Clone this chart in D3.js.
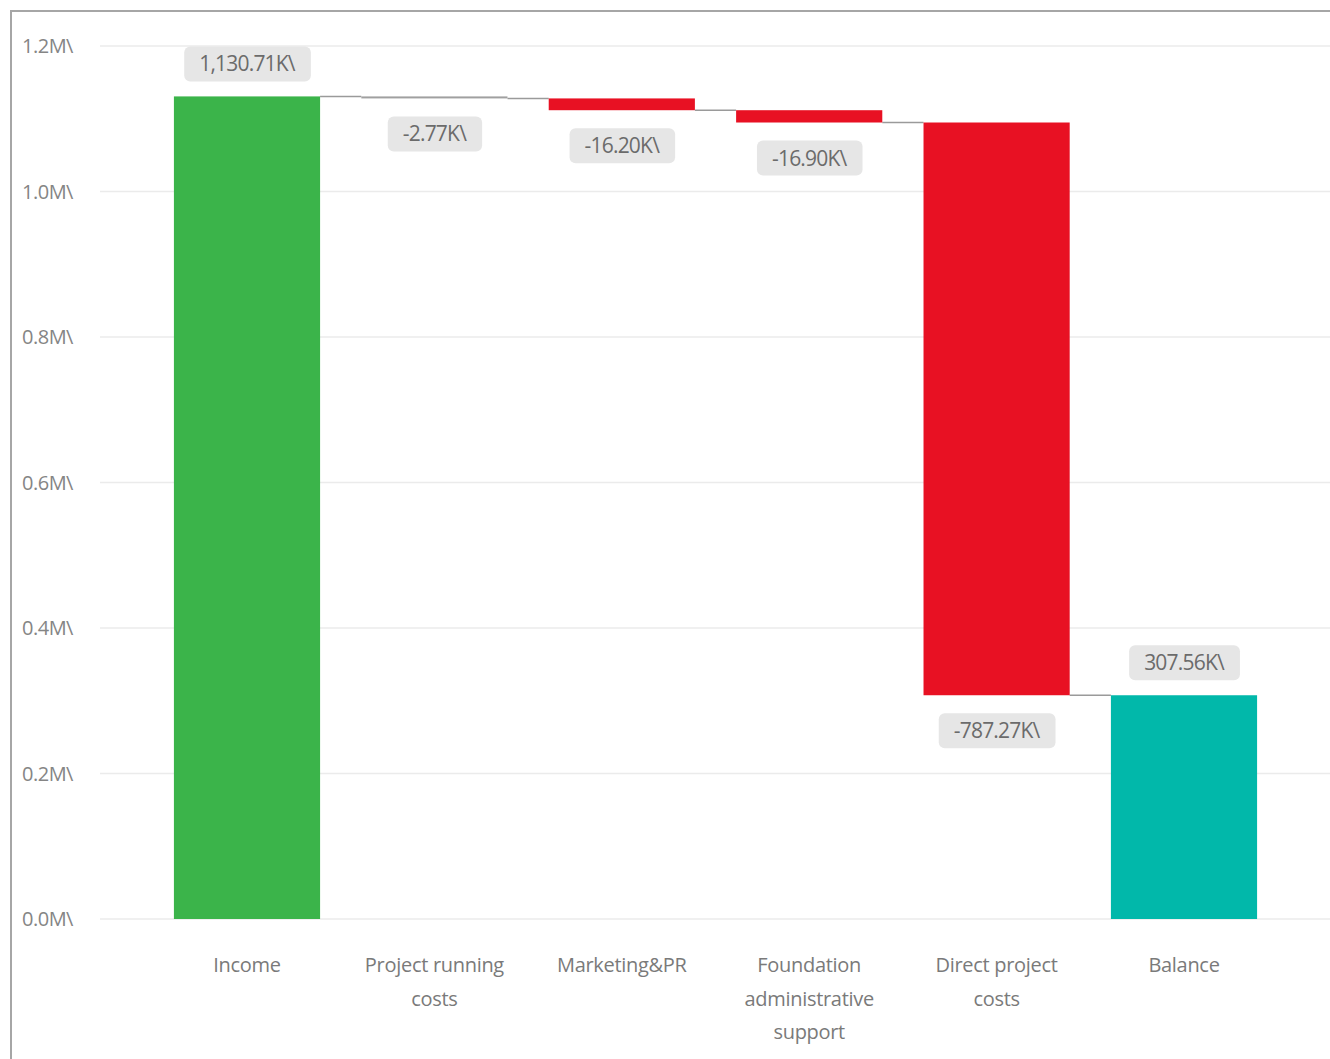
<!DOCTYPE html>
<html>
<head>
<meta charset="utf-8">
<script src="https://cdn.jsdelivr.net/npm/d3@7"></script>
<style>
  html, body { margin: 0; padding: 0; background: #fff; }
  svg { display: block; }
</style>
</head>
<body>
<svg id="chart" width="1330" height="1059"></svg>
<script>
// ---- data ----
const categories = ["Income", "Project running costs", "Marketing&PR", "Foundation administrative support", "Direct project costs", "Balance"];
const categoryLines = [["Income"], ["Project running", "costs"], ["Marketing&PR"], ["Foundation", "administrative", "support"], ["Direct project", "costs"], ["Balance"]];
const values = [1130.71, -2.77, -16.20, -16.90, -787.27, 307.56]; // thousands
const kinds = ["total", "delta", "delta", "delta", "delta", "total"];
const valueLabels = ["1,130.71K\\", "-2.77K\\", "-16.20K\\", "-16.90K\\", "-787.27K\\", "307.56K\\"];
const yTicks = [0, 200, 400, 600, 800, 1000, 1200];
const yTickLabels = ["0.0M\\", "0.2M\\", "0.4M\\", "0.6M\\", "0.8M\\", "1.0M\\", "1.2M\\"];

// ---- layout ----
const svg = d3.select("#chart");
const x = d3.scaleBand().domain(categories).range([153.3, 1277.7]).paddingInner(0.22).paddingOuter(0.11);
const y = d3.scaleLinear().domain([0, 1200]).range([919, 46]);

// compute waterfall
let running = 0;
const bars = categories.map((c, i) => {
  let start, end;
  if (kinds[i] === "total") { start = 0; end = values[i]; running = values[i]; }
  else { start = running; end = running + values[i]; running = end; }
  return { c, i, start, end, v: values[i], kind: kinds[i] };
});

// frame
svg.append("line").attr("x1", 10).attr("x2", 1330).attr("y1", 11).attr("y2", 11).attr("stroke", "#a6a6a6").attr("stroke-width", 2);
svg.append("line").attr("x1", 11).attr("x2", 11).attr("y1", 11).attr("y2", 1059).attr("stroke", "#a6a6a6").attr("stroke-width", 2);

// gridlines
svg.append("g").selectAll("line").data(yTicks).join("line")
  .attr("x1", 100).attr("x2", 1330)
  .attr("y1", d => y(d)).attr("y2", d => y(d))
  .attr("stroke", "#ebebeb").attr("stroke-width", 1.5);

// y tick labels
svg.append("g").selectAll("text").data(yTicks).join("text")
  .attr("x", 22).attr("y", d => y(d) + 7)
  .attr("font-family", "'Open Sans', sans-serif")
  .attr("font-size", 20).attr("letter-spacing", -0.5).attr("fill", "#858585")
  .text((d, i) => yTickLabels[i]);

// connectors
svg.append("g").selectAll("line").data(bars.slice(0, -1)).join("line")
  .attr("x1", d => x(d.c) + x.bandwidth())
  .attr("x2", d => x(categories[d.i + 1]))
  .attr("y1", d => y(d.end)).attr("y2", d => y(d.end))
  .attr("stroke", "#9a9a9a").attr("stroke-width", 1.5);

// bars
function color(d) {
  if (d.i === 0) return "#3bb44a";
  if (d.kind === "total") return "#01b8aa";
  if (Math.abs(d.v) < 5) return "#a0a0a0";
  return d.v < 0 ? "#e81123" : "#3bb44a";
}
svg.append("g").selectAll("rect").data(bars).join("rect")
  .attr("x", d => x(d.c)).attr("width", x.bandwidth())
  .attr("y", d => y(Math.max(d.start, d.end)))
  .attr("height", d => Math.max(2, Math.abs(y(d.start) - y(d.end))))
  .attr("fill", color);

// data labels
const lab = svg.append("g").selectAll("g").data(bars).join("g")
  .attr("transform", d => {
    const cx = x(d.c) + x.bandwidth() / 2;
    const cy = d.v >= 0 ? y(Math.max(d.start, d.end)) - 33 : y(Math.min(d.start, d.end)) + 35;
    return `translate(${cx},${cy})`;
  });
lab.append("text")
  .attr("text-anchor", "middle").attr("dy", 8)
  .attr("font-family", "'Open Sans', sans-serif")
  .attr("font-size", 21).attr("letter-spacing", -0.8).attr("fill", "#6b6b6b")
  .text(d => valueLabels[d.i]);
lab.each(function () {
  const g = d3.select(this);
  const bb = g.select("text").node().getBBox();
  g.insert("rect", "text")
    .attr("x", bb.x - 15).attr("y", -17).attr("width", bb.width + 30).attr("height", 35)
    .attr("rx", 6).attr("fill", "#e6e6e6");
});

// x labels
const xl = svg.append("g").selectAll("text").data(bars).join("text")
  .attr("text-anchor", "middle")
  .attr("x", d => x(d.c) + x.bandwidth() / 2)
  .attr("y", 972)
  .attr("font-family", "'Open Sans', 'Noto Sans', sans-serif")
  .attr("font-size", 20).attr("letter-spacing", -0.3).attr("fill", "#7a7a7a");
xl.selectAll("tspan").data(d => categoryLines[d.i]).join("tspan")
  .attr("x", function () { return d3.select(this.parentNode).attr("x"); })
  .attr("dy", (d, i) => i === 0 ? 0 : 33.5)
  .text(d => d);
</script>
</body>
</html>
